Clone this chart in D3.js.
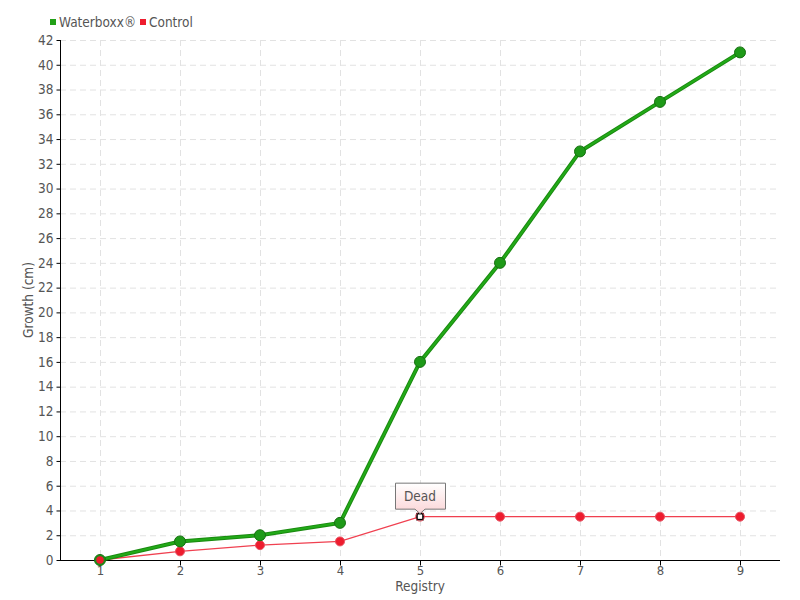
<!DOCTYPE html>
<html><head><meta charset="utf-8">
<script src="https://cdn.jsdelivr.net/npm/d3@7"></script>
<style>
body{margin:0;background:#fff;}
text{font-family:"DejaVu Sans Condensed","Liberation Sans Narrow",sans-serif;fill:#555;}
</style></head>
<body><svg id="c" width="800" height="600"></svg>
<script>
const categories = [1,2,3,4,5,6,7,8,9];
const waterboxx = [0,1.5,2,3,16,24,33,37,41];
const control = [0,0.7,1.2,1.5,3.5,3.5,3.5,3.5,3.5];
const yTicks = d3.range(0,43,2);
const seriesNames = ["Waterboxx®","Control"];
const annotationIndex = 4;
const annotationText = "Dead";

const svg = d3.select("#c");
const L=60,R=780,T=40,B=560;
const x = d3.scalePoint().domain(categories).range([L,R]).padding(0.5);
const y = d3.scaleLinear().domain([0,42]).range([B,T]);

// grid
const g = svg.append("g");
g.selectAll(".hg").data(yTicks.slice(1)).enter().append("line")
 .attr("x1",L).attr("x2",R).attr("y1",d=>y(d)+0.5).attr("y2",d=>y(d)+0.5)
 .attr("stroke","#e2e2e2").attr("stroke-dasharray","6,4");
g.selectAll(".vg").data(categories).enter().append("line")
 .attr("x1",d=>x(d)+0.5).attr("x2",d=>x(d)+0.5).attr("y1",T).attr("y2",B)
 .attr("stroke","#e2e2e2").attr("stroke-dasharray","6,4");

// axes
const ya = svg.append("g").attr("transform",`translate(${L+0.5},0)`)
 .call(d3.axisLeft(y).tickValues(yTicks).tickSize(4).tickPadding(3));
ya.select(".domain").attr("stroke","#000").attr("d",`M0,${T}V${B}`);
ya.selectAll(".tick line").attr("stroke","#000");
ya.selectAll(".tick text").attr("font-size",13.5).style("fill","#555").attr("font-family","DejaVu Sans Condensed, sans-serif");

const xa = svg.append("g").attr("transform",`translate(0,${B+0.5})`)
 .call(d3.axisBottom(x).tickSize(5).tickPadding(0));
xa.select(".domain").attr("stroke","#000").attr("d",`M${L},0H${R}`);
xa.selectAll(".tick line").attr("stroke","#000");
xa.selectAll(".tick text").attr("font-size",13).style("fill","#555").attr("font-family","DejaVu Sans Condensed, sans-serif");

// axis titles
svg.append("text").attr("x",(L+R)/2).attr("y",591).attr("text-anchor","middle").attr("font-size",13.5).text("Registry");
svg.append("text").attr("transform",`translate(33,${(T+B)/2}) rotate(-90)`).attr("text-anchor","middle").attr("font-size",13.5).attr("font-family","Liberation Sans Narrow, sans-serif").text("Growth (cm)");

const line = d3.line().x((d,i)=>x(categories[i])).y(d=>y(d));

// control
svg.append("path").datum(control).attr("d",line).attr("fill","none").attr("stroke","#f04050").attr("stroke-width",1.3);
// waterboxx
svg.append("path").datum(waterboxx).attr("d",line).attr("fill","none").attr("stroke","#1a8a10").attr("stroke-width",4);
svg.append("path").datum(waterboxx).attr("d",line).attr("fill","none").attr("stroke","#22aa18").attr("stroke-width",2);

const cpts = control.map((v,i)=>({v,i})).filter(d=>d.i!==annotationIndex);
svg.selectAll(".cp").data(cpts).enter().append("circle")
 .attr("cx",d=>x(categories[d.i])).attr("cy",d=>y(d.v)).attr("r",4.5)
 .attr("fill","#ee1c2e").attr("stroke","#e85060").attr("stroke-width",1);
svg.selectAll(".wp").data(waterboxx).enter().append("circle")
 .attr("cx",(d,i)=>x(categories[i])).attr("cy",d=>y(d)).attr("r",5.5)
 .attr("fill","#1e9a18").attr("stroke","#167010").attr("stroke-width",1);
// red first point on top
svg.append("circle").attr("cx",x(categories[0])).attr("cy",y(control[0])).attr("r",4.5).attr("fill","#ee1c2e").attr("stroke","#1e8a18").attr("stroke-width",1.5);

// annotation marker
const ax = x(categories[annotationIndex]), ay = y(control[annotationIndex]);
svg.append("rect").attr("x",ax-3).attr("y",ay-3).attr("width",6).attr("height",6).attr("fill","#fff").attr("stroke","#000").attr("stroke-width",1.6);
svg.append("circle").attr("cx",ax).attr("cy",ay).attr("r",4.5).attr("fill","none").attr("stroke","#f04050").attr("stroke-width",0.8);

// tooltip
const defs = svg.append("defs");
const grad = defs.append("linearGradient").attr("id","tg").attr("x1",0).attr("y1",0).attr("x2",0).attr("y2",1);
grad.append("stop").attr("offset","0%").attr("stop-color","#fff");
grad.append("stop").attr("offset","100%").attr("stop-color","#fbd4d6");
const bx0=ax-25, bx1=ax+25, by0=ay-34, by1=ay-8;
svg.append("path").attr("d",`M${bx0+0.5},${by0+0.5}H${bx1+0.5}V${by1+0.5}H${ax+5}L${ax},${ay-3}L${ax-5},${by1+0.5}H${bx0+0.5}Z`)
 .attr("fill","url(#tg)").attr("stroke","#777").attr("stroke-width",1);
svg.append("text").attr("x",ax).attr("y",by0+18).attr("text-anchor","middle").attr("font-size",13.5).text(annotationText);

// legend
const leg = svg.append("g");
const lc = ["#22a018","#ee1c2e"];
const lx = [50,140];
seriesNames.forEach((n,i)=>{
  leg.append("rect").attr("x",lx[i]).attr("y",19).attr("width",6).attr("height",6).attr("fill",lc[i]);
  leg.append("text").attr("x",lx[i]+9).attr("y",27).attr("font-size",13.5).text(n);
});
</script></body></html>
